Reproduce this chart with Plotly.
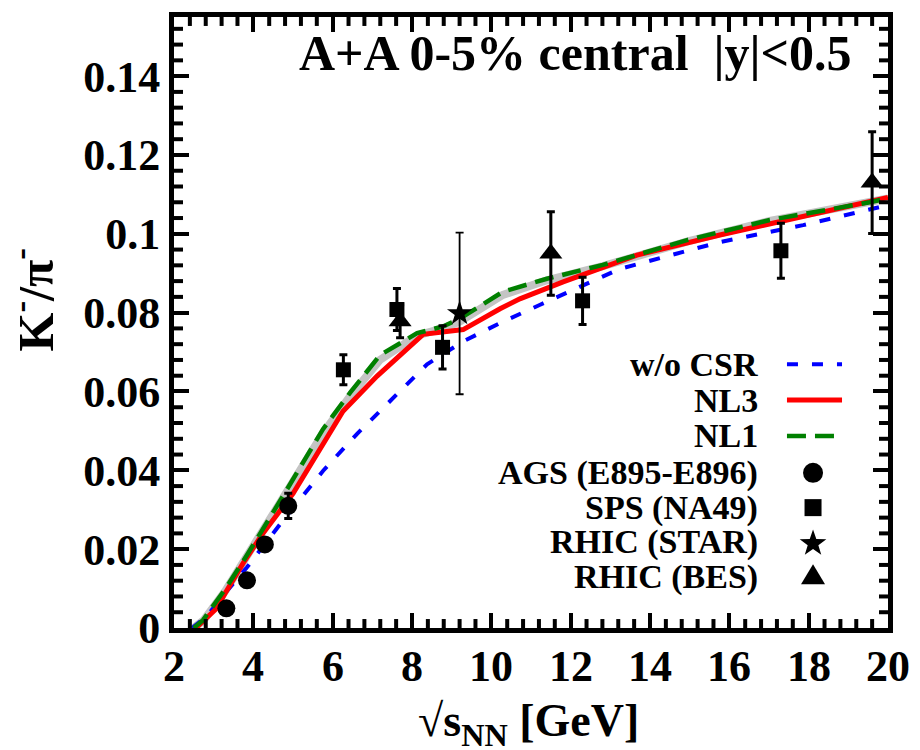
import math
import plotly.graph_objects as go

# ---------------- data ----------------
ags_x = [3.32, 3.84, 4.29, 4.88]
ags_y = [0.0050, 0.0121, 0.0212, 0.0310]
ags_err = [0.0008, 0.0008, 0.0010, 0.0032]

sps_x = [6.27, 7.62, 8.77, 12.3, 17.3]
sps_y = [0.0655, 0.0808, 0.0712, 0.0830, 0.0957]
sps_err = [0.0038, 0.0053, 0.0055, 0.0060, 0.0070]

star_x = [9.2]
star_y = [0.0798]
star_err = [0.0205]

bes_x = [7.7, 11.5, 19.6]
bes_y = [0.0778, 0.0950, 0.1130]
bes_err = [0.0042, 0.0106, 0.0129]

csr_x = [2.45, 2.83, 3.30, 3.84, 4.75, 5.76, 6.61, 7.45, 8.38, 9.29, 10.29, 11.23, 13.24, 15.76, 17.86, 19.8, 20.0]
csr_y = [0.0, 0.0030, 0.0090, 0.0154, 0.0273, 0.0399, 0.0492, 0.0575, 0.0669, 0.0727, 0.0777, 0.0820, 0.0911, 0.0979, 0.1022, 0.1068, 0.1072]

nl3_x = [2.55, 2.75, 3.08, 3.29, 3.74, 4.24, 5.0, 6.26, 7.12, 8.28, 9.29, 10.22, 10.72, 11.81, 13.67, 15.76, 17.45, 19.54, 20.0]
nl3_y = [0.0, 0.0020, 0.0050, 0.0088, 0.0164, 0.0240, 0.0341, 0.0550, 0.0639, 0.0745, 0.0757, 0.0810, 0.0835, 0.0878, 0.0946, 0.0997, 0.1035, 0.1080, 0.1092]

nl1_x = [2.5, 2.73, 3.3, 3.84, 4.75, 5.76, 6.44, 7.19, 8.13, 8.78, 9.21, 10.29, 11.4, 12.81, 14.93, 17.02, 19.54, 20.0]
nl1_y = [0.0, 0.0020, 0.0100, 0.0185, 0.0335, 0.0505, 0.0597, 0.0692, 0.0748, 0.0765, 0.0785, 0.0853, 0.0886, 0.0921, 0.0984, 0.1035, 0.1080, 0.1090]

band_x = [2.5, 2.75, 3.3, 3.84, 4.75, 5.76, 6.44, 7.19, 8.13, 8.78, 9.21, 10.29, 11.4, 12.81, 14.93, 17.02, 19.54, 20.0]
band_y = [0.0, 0.0020, 0.0095, 0.0180, 0.0330, 0.0495, 0.0588, 0.0680, 0.0742, 0.0760, 0.0778, 0.0845, 0.0882, 0.0918, 0.0980, 0.1033, 0.1080, 0.1090]

x_ticks = [2, 4, 6, 8, 10, 12, 14, 16, 18, 20]
y_ticks = [0, 0.02, 0.04, 0.06, 0.08, 0.1, 0.12, 0.14]
y_tick_text = ["0", "0.02", "0.04", "0.06", "0.08", "0.1", "0.12", "0.14"]

legend_labels = ["w/o CSR", "NL3", "NL1", "AGS (E895-E896)", "SPS (NA49)", "RHIC (STAR)", "RHIC (BES)"]

X_RANGE = [2, 20]
Y_RANGE = [0, 0.155]
PLOT_W, PLOT_H = 714, 614

# ---------------- figure ----------------
FONT = "Liberation Serif"
fig = go.Figure()

fig.add_trace(go.Scatter(x=band_x, y=band_y, mode="lines",
                         line=dict(color="#c4c4c4", width=8), showlegend=False, hoverinfo="skip"))
fig.add_trace(go.Scatter(x=csr_x, y=csr_y, mode="lines",
                         line=dict(color="#0000ff", width=4, dash="11px,14px"), showlegend=False))
fig.add_trace(go.Scatter(x=nl3_x, y=nl3_y, mode="lines",
                         line=dict(color="#ff0000", width=5), showlegend=False))
fig.add_trace(go.Scatter(x=nl1_x, y=nl1_y, mode="lines",
                         line=dict(color="#008000", width=4.5, dash="19px,9px"), showlegend=False))

def err(arr, thick=3):
    return dict(type="data", array=arr, visible=True, thickness=thick, width=4, color="black")

fig.add_trace(go.Scatter(x=ags_x, y=ags_y, mode="markers", error_y=err(ags_err),
                         marker=dict(symbol="circle", size=18, color="black"), showlegend=False))
fig.add_trace(go.Scatter(x=sps_x, y=sps_y, mode="markers", error_y=err(sps_err),
                         marker=dict(symbol="square", size=15, color="black"), showlegend=False))
fig.add_trace(go.Scatter(x=star_x, y=star_y, mode="markers", error_y=err(star_err, 1.8),
                         marker=dict(symbol="star", size=19, color="black"), showlegend=False))
fig.add_trace(go.Scatter(x=bes_x, y=bes_y, mode="markers", error_y=err(bes_err),
                         marker=dict(symbol="triangle-up", size=20, color="black"), showlegend=False))

# ---------------- minor ticks (inside, four sides) as one segmented line trace ----------------
ty = 9 * (Y_RANGE[1] - Y_RANGE[0]) / PLOT_H   # 9 px in y data units
tx = 9 * (X_RANGE[1] - X_RANGE[0]) / PLOT_W   # 9 px in x data units
mx = [2 + 0.4 * k for k in range(46) if k % 5 != 0]
my = [0.004 * k for k in range(39) if k % 5 != 0]
seg_x, seg_y = [], []
for xv in mx:
    seg_x += [xv, xv, None, xv, xv, None]
    seg_y += [Y_RANGE[0], Y_RANGE[0] + ty, None, Y_RANGE[1], Y_RANGE[1] - ty, None]
for yv in my:
    seg_x += [X_RANGE[0], X_RANGE[0] + tx, None, X_RANGE[1], X_RANGE[1] - tx, None]
    seg_y += [yv, yv, None, yv, yv, None]
fig.add_trace(go.Scatter(x=seg_x, y=seg_y, mode="lines", line=dict(color="black", width=4),
                         connectgaps=False, showlegend=False, hoverinfo="skip"))

shapes = []

# ---------------- custom legend (shapes + annotations in paper coords) ----------------
row_y = [0.4316, 0.373, 0.3143, 0.254, 0.197, 0.140, 0.083]
lx0, lx1, lxm = 0.8585, 0.9356, 0.895
line_styles = [dict(color="#0000ff", width=4, dash="11px,14px"),
               dict(color="#ff0000", width=5),
               dict(color="#008000", width=4.5, dash="19px,9px")]
for i, ls in enumerate(line_styles):
    shapes.append(dict(type="line", xref="paper", yref="paper", x0=lx0, x1=lx1,
                       y0=row_y[i], y1=row_y[i], line=ls))

def pix_shape(kind, yv, x0=0, x1=0, y0=0, y1=0, path=None):
    d = dict(type=kind, xref="paper", yref="paper", xsizemode="pixel", ysizemode="pixel",
             xanchor=lxm, yanchor=yv, fillcolor="black", line=dict(width=0, color="black"))
    if path is None:
        d.update(x0=x0, x1=x1, y0=y0, y1=y1)
    else:
        d.update(path=path)
    return d

shapes.append(pix_shape("circle", row_y[3], -10, 10, -10, 10))
shapes.append(pix_shape("rect", row_y[4], -8.5, 8.5, -8.5, 8.5))
pts = []
for k in range(10):
    ang = math.pi / 2 + k * math.pi / 5
    r = 14 if k % 2 == 0 else 5.6
    pts.append((r * math.cos(ang), r * math.sin(ang) - 1))
shapes.append(pix_shape("path", row_y[5],
                        path="M" + " L".join(f"{px:.2f},{py:.2f}" for px, py in pts) + " Z"))
shapes.append(pix_shape("path", row_y[6], path="M-12,-7 L12,-7 L0,13 Z"))

annotations = []
for i, lab in enumerate(legend_labels):
    annotations.append(dict(text="<b>" + lab + "</b>", x=0.8207, y=row_y[i], xref="paper", yref="paper",
                            xanchor="right", yanchor="middle", showarrow=False,
                            font=dict(family=FONT, size=34, color="black")))

# x tick labels
for v in x_ticks:
    annotations.append(dict(text="<b>%d</b>" % v, x=v, y=0, xref="x", yref="paper",
                            xanchor="center", yanchor="middle", yshift=-38, showarrow=False,
                            font=dict(family=FONT, size=44, color="black")))

annotations.append(dict(text="<b>A+A 0-5% central&nbsp; |y|&lt;0.5</b>", x=0.952, y=0.941,
                        xref="paper", yref="paper", xanchor="right", yanchor="middle",
                        showarrow=False,
                        font=dict(family=FONT, size=50, color="black")))
annotations.append(dict(text="<b>K<sup>-</sup>/π<sup>-</sup></b>", x=-0.198, y=0.537,
                        xref="paper", yref="paper", xanchor="center", yanchor="middle",
                        textangle=-90, showarrow=False,
                        font=dict(family=FONT, size=50, color="black")))
annotations.append(dict(text="<b>√s<sub>NN</sub> [GeV]</b>", x=0.497, y=-0.157,
                        xref="paper", yref="paper", xanchor="center", yanchor="middle",
                        showarrow=False,
                        font=dict(family=FONT, size=46, color="black")))

axis_common = dict(showline=True, linewidth=5, linecolor="black", mirror="allticks",
                   ticks="inside", ticklen=15, tickwidth=4, tickcolor="black",
                   showgrid=False, zeroline=False)

fig.update_layout(
    width=920, height=750,
    margin=dict(l=174, r=32, t=14, b=122),
    paper_bgcolor="white", plot_bgcolor="white",
    xaxis=dict(range=X_RANGE, tickmode="array", tickvals=x_ticks, showticklabels=False, **axis_common),
    yaxis=dict(range=Y_RANGE, tickmode="array", tickvals=y_ticks,
               ticktext=["<b>%s</b>" % t for t in y_tick_text],
               tickfont=dict(family=FONT, size=44, color="black"), **axis_common),
    annotations=annotations,
    shapes=shapes,
    showlegend=False,
)

fig.write_html("out.html")
